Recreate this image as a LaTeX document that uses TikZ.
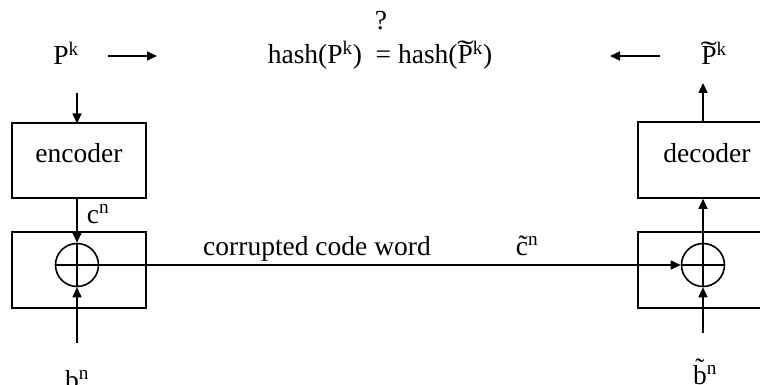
\documentclass[tikz,border=0pt]{standalone}
\usepackage{fontspec}
\setmainfont{Liberation Serif}
\usepackage{graphicx}
\usetikzlibrary{arrows.meta}
\newcommand{\tP}{\leavevmode\rlap{\raisebox{0.15em}{\makebox[0.556em]{\scalebox{1.8}[1]{\symbol{"02DC}}}}}P}
\begin{document}
\begin{tikzpicture}[x=1pt,y=-1pt,
  every node/.style={font=\fontsize{27.5}{32}\selectfont, inner sep=0pt},
  lbl/.style={anchor=base},
  blk/.style={draw, line width=1.6pt},
  ln/.style={line width=1.6pt},
  arr/.style={line width=1.6pt, -{Triangle[length=10pt,width=9pt]}},
  xr/.style={circle, draw, line width=1.6pt, minimum size=43pt}]
\useasboundingbox (0,0) rectangle (760,385);
% boxes
\node[blk, minimum width=134pt, minimum height=75pt] (enc) at (79,160.5) {};
\node[blk, minimum width=134pt, minimum height=76pt] (xl) at (79,270) {};
\node[blk, minimum width=134pt, minimum height=76pt] (dec) at (705,160) {};
\node[blk, minimum width=134pt, minimum height=76pt] (xrb) at (705,270) {};
\node[lbl] (enctxt) at (79,162) {encoder};
\node[lbl] (dectxt) at (707,162) {decoder};
% xor circles
\node[xr] (cl) at (77,265) {};
\node[xr] (cr) at (703,265) {};
\draw[ln] (cl.north) -- (cl.south);
\draw[ln] (cr.north) -- (cr.south);
\draw[ln] (cr.west) -- (cr.east);
% top texts
\node[lbl] (pk) at (66,65) {P\textsuperscript{k}};
\node[lbl] (q) at (381,30) {?};
\node[lbl] (hash) at (380,64) {hash(P\textsuperscript{k})\ \ = hash(\tP\textsuperscript{k})};
\node[lbl] (ptk) at (714,65) {\tP\textsuperscript{k}};
\coordinate (a1s) at (108,56);
\coordinate (a1e) at (157,56);
\coordinate (a2s) at (660,56);
\coordinate (a2e) at (610,56);
\draw[arr] (a1s) -- (a1e);
\draw[arr] (a2s) -- (a2e);
% vertical arrows
\coordinate (pkdown) at (77,93);
\draw[arr] (pkdown) -- (77,123.5);
\draw[arr] (enc.south -| cl.north) -- (cl.north);
\coordinate (bl) at (77,343);
\draw[arr] (bl) -- (cl.south);
\coordinate (br) at (703,333);
\draw[arr] (br) -- (cr.south);
\draw[arr] (cr.north) -- (cr.north |- dec.south);
\coordinate (ptkup) at (703,83);
\draw[arr] (cr.north |- dec.north) -- (ptkup);
% channel
\draw[ln] (cl.west) -- (cl.east);
\draw[arr] (cl.east) -- (cr.west);
% labels
\node[lbl] (cn) at (98,223) {c\textsuperscript{n}};
\node[lbl] (ccw) at (317,255) {corrupted code word};
\node[lbl] (ctn) at (527,255) {\~c\textsuperscript{n}};
\node[lbl] (bn) at (77,389) {b\textsuperscript{n}};
\node[lbl] (btn) at (705,384) {\~b\textsuperscript{n}};
\end{tikzpicture}
\end{document}
